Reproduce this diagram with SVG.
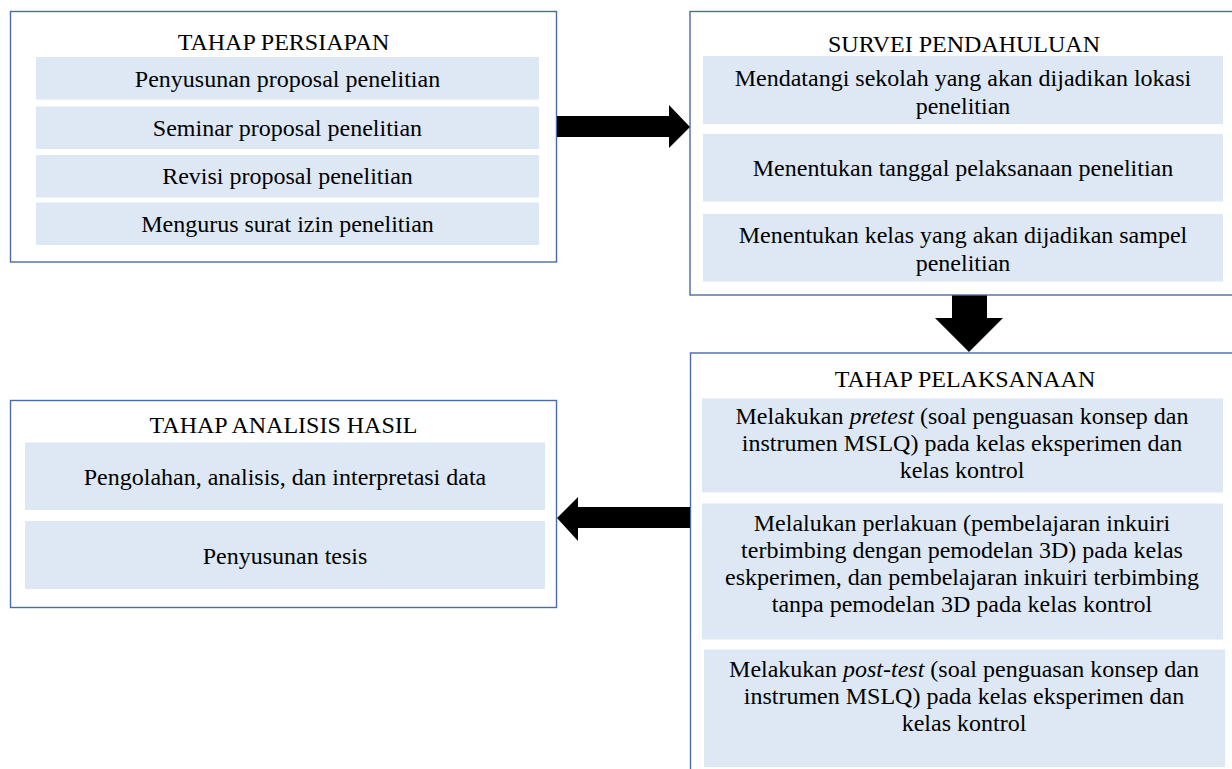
<svg xmlns="http://www.w3.org/2000/svg" width="1232" height="769" viewBox="0 0 1232 769">
<style>
.frame{fill:#ffffff;stroke:#4a6ca6;stroke-width:1.4}
.item{fill:#dde8f4}
.t{font-family:"Liberation Serif","Times New Roman",serif;font-size:24px;fill:#000;text-anchor:middle}
.arrow{fill:#000}
</style>
<rect width="1232" height="769" fill="#ffffff"/>
<g id="persiapan">
<rect class="frame" x="10.5" y="11.5" width="546" height="250.5"/>
<text class="t" x="283.5" y="50">TAHAP PERSIAPAN</text>
<rect class="item" x="36" y="57" width="503" height="42.5"/>
<text class="t" x="287.5" y="87">Penyusunan proposal penelitian</text>
<rect class="item" x="36" y="106.5" width="503" height="42.5"/>
<text class="t" x="287.5" y="136">Seminar proposal penelitian</text>
<rect class="item" x="36" y="155" width="503" height="42.5"/>
<text class="t" x="287.5" y="184">Revisi proposal penelitian</text>
<rect class="item" x="36" y="202.5" width="503" height="42.5"/>
<text class="t" x="287.5" y="232">Mengurus surat izin penelitian</text>
</g>
<g id="survei">
<rect class="frame" x="690" y="11.5" width="560" height="283.5"/>
<text class="t" x="964" y="52">SURVEI PENDAHULUAN</text>
<rect class="item" x="703" y="56" width="520" height="68"/>
<text class="t" x="963" y="86">Mendatangi sekolah yang akan dijadikan lokasi</text>
<text class="t" x="963" y="114">penelitian</text>
<rect class="item" x="703" y="134" width="520" height="67.5"/>
<text class="t" x="963" y="176">Menentukan tanggal pelaksanaan penelitian</text>
<rect class="item" x="703" y="214" width="520" height="67.5"/>
<text class="t" x="963" y="243">Menentukan kelas yang akan dijadikan sampel</text>
<text class="t" x="963" y="271">penelitian</text>
</g>
<g id="pelaksanaan">
<rect class="frame" x="690.5" y="353" width="560" height="430"/>
<text class="t" x="965" y="387">TAHAP PELAKSANAAN</text>
<rect class="item" x="702" y="398.5" width="521" height="94"/>
<text class="t" x="962" y="424">Melakukan <tspan font-style="italic">pretest</tspan> (soal penguasan konsep dan</text>
<text class="t" x="962" y="451">instrumen MSLQ) pada kelas eksperimen dan</text>
<text class="t" x="962" y="478">kelas kontrol</text>
<rect class="item" x="702" y="503.5" width="521" height="136"/>
<text class="t" x="962" y="531">Melalukan perlakuan (pembelajaran inkuiri</text>
<text class="t" x="962" y="558">terbimbing dengan pemodelan 3D) pada kelas</text>
<text class="t" x="962" y="585">eskperimen, dan pembelajaran inkuiri terbimbing</text>
<text class="t" x="962" y="612">tanpa pemodelan 3D pada kelas kontrol</text>
<rect class="item" x="704" y="649.5" width="521" height="117.5"/>
<text class="t" x="964" y="677">Melakukan <tspan font-style="italic">post-test</tspan> (soal penguasan konsep dan</text>
<text class="t" x="964" y="704">instrumen MSLQ) pada kelas eksperimen dan</text>
<text class="t" x="964" y="731">kelas kontrol</text>
</g>
<g id="analisis">
<rect class="frame" x="10.5" y="400.5" width="546" height="207"/>
<text class="t" x="283.5" y="433">TAHAP ANALISIS HASIL</text>
<rect class="item" x="25" y="442.5" width="520" height="67.5"/>
<text class="t" x="285" y="485">Pengolahan, analisis, dan interpretasi data</text>
<rect class="item" x="25" y="521" width="520" height="68"/>
<text class="t" x="285" y="564">Penyusunan tesis</text>
</g>
<g id="connectors">
<polygon class="arrow" points="557,116 669,116 669,105 690,127 669,148 669,137 557,137"/>
<polygon class="arrow" points="952,295.5 987,295.5 987,318 1003,318 969,352 935,318 952,318"/>
<polygon class="arrow" points="690,507 578,507 578,497 557,518 578,541 578,528 690,528"/>
</g>
</svg>
